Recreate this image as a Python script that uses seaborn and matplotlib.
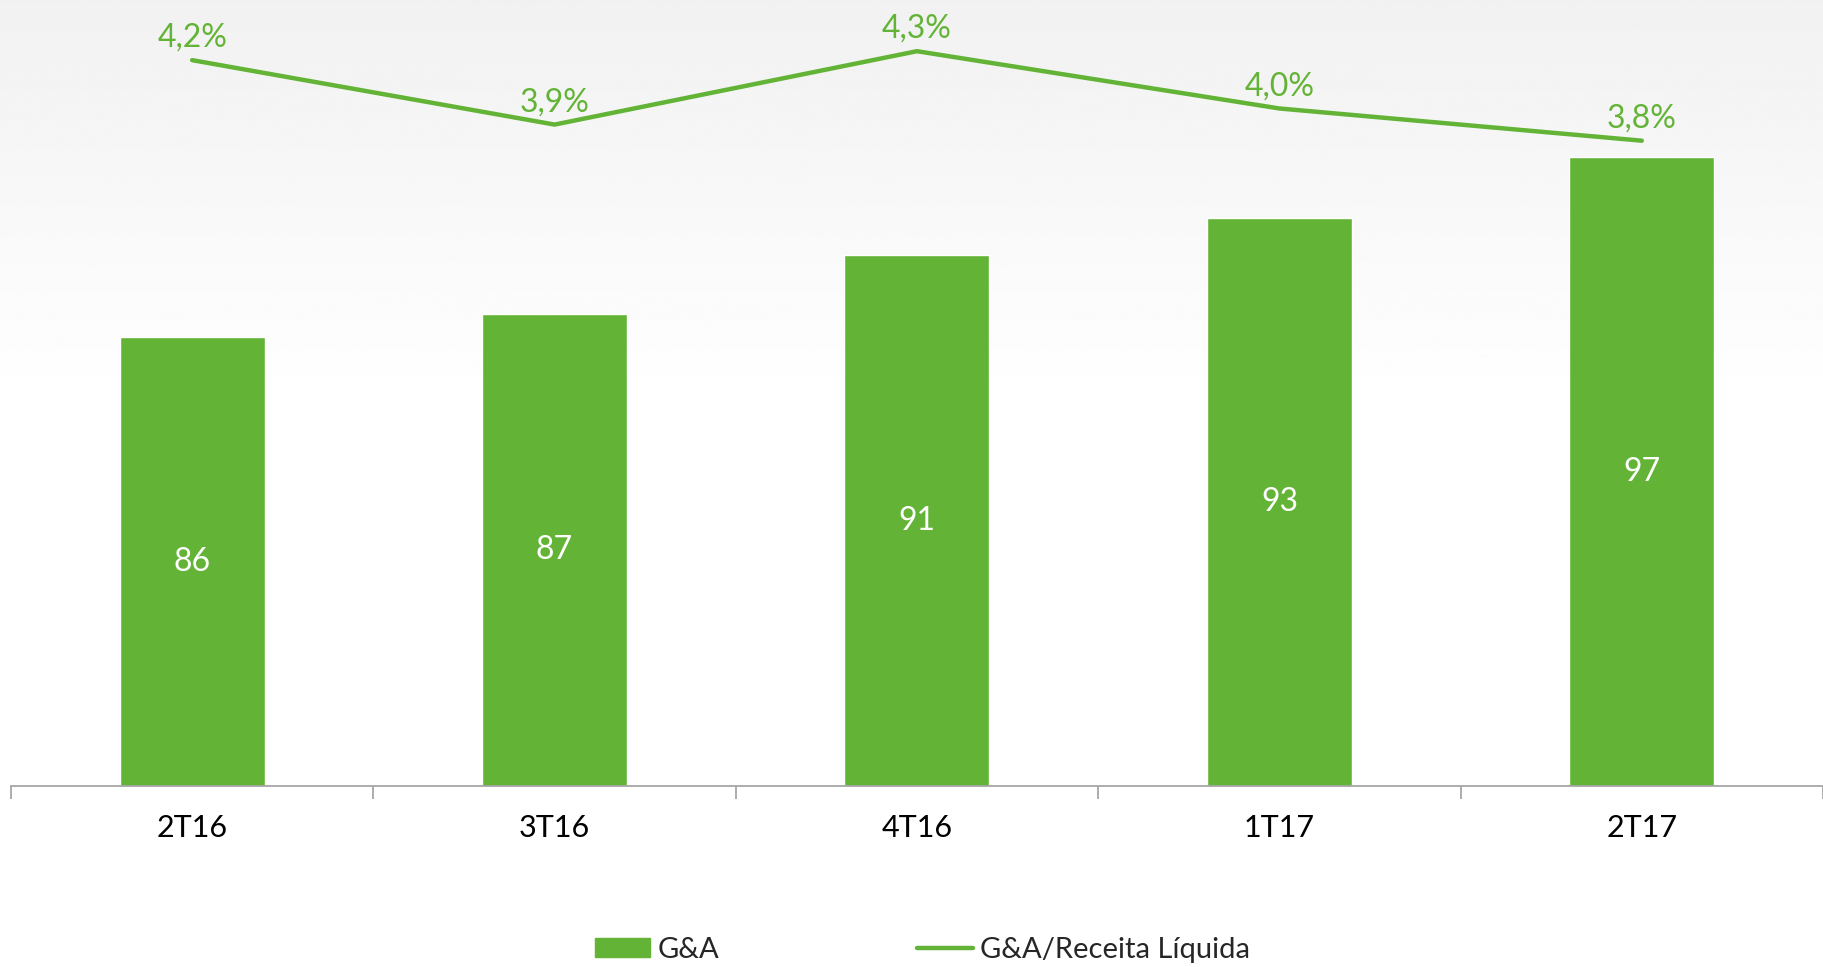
import numpy as np
import pandas as pd
import matplotlib
matplotlib.use("Agg")
import matplotlib.pyplot as plt
from matplotlib.patches import Patch
from matplotlib.lines import Line2D
import seaborn as sns

# data
quarters = ["2T16", "3T16", "4T16", "1T17", "2T17"]
ga_values = [86.0, 87.4, 91.0, 93.3, 97.0]
ga_labels = ["86", "87", "91", "93", "97"]
ratio_values = [4.25, 3.89, 4.30, 3.98, 3.80]
ratio_labels = ["4,2%", "3,9%", "4,3%", "4,0%", "3,8%"]

GREEN = "#63b436"
FONT = ["Lato", "DejaVu Sans"]
YMIN = 58.6

sns.set_theme(style="white")
plt.rcParams['font.family'] = FONT

fig = plt.figure(figsize=(18.23, 9.67), dpi=100)

# soft grey-to-white background
bg = fig.add_axes([0, 0, 1, 1], zorder=-10)
rows = np.linspace(0, 1, 400)
shade = np.clip(1 - rows / 0.42, 0, 1)
grad = 1 - 0.055 * shade
img = np.repeat(grad[:, None], 2, axis=1)
bg.imshow(img, cmap="gray", vmin=0, vmax=1, aspect="auto", extent=[0, 1, 0, 1], origin="upper")
bg.axis("off")

ax = fig.add_axes([0.006, 1 - 786 / 967, 0.994, 786 / 967])
ax.patch.set_alpha(0)

df = pd.DataFrame({"quarter": quarters, "ga": ga_values})
sns.barplot(data=df, x="quarter", y="ga", color=GREEN, saturation=1, width=0.4, ax=ax)

ax2 = ax.twinx()
sns.lineplot(x=np.arange(len(quarters)), y=ratio_values, color=GREEN, linewidth=3.2, ax=ax2)
ax2.set_ylim(0.195, 4.586)
ax2.set_yticks([])
for s in ax2.spines.values():
    s.set_visible(False)

# limits set after the line so autoscale doesn't undo them
ax.set_xlim(-0.5, 4.477)
ax.set_ylim(YMIN, 106.6)
ax.set_xlabel("")
ax.set_ylabel("")
ax.set_yticks([])
for s in ["top", "right", "left"]:
    ax.spines[s].set_visible(False)
ax.spines["bottom"].set_color("#a6a6a6")
ax.spines["bottom"].set_linewidth(1.3)
ax.set_xticks(range(len(quarters)))
ax.set_xticklabels(quarters)
ax.set_xticks(np.arange(-0.5, 5, 1), minor=True)
ax.tick_params(axis="x", which="minor", bottom=True, length=9, width=1.3, color="#a6a6a6")
ax.tick_params(axis="x", which="major", length=0, pad=20, labelsize=22, labelcolor="black")

for i, p in enumerate(ax.patches):
    ax.text(p.get_x() + p.get_width() / 2, (YMIN + p.get_height()) / 2,
            ga_labels[i], ha="center", va="center", color="white", fontsize=23)

for i, v in enumerate(ratio_values):
    ax2.annotate(ratio_labels[i], (i, v), xytext=(0, 16), textcoords="offset points",
                 ha="center", va="center", color=GREEN, fontsize=23)

handles = [Patch(facecolor=GREEN, edgecolor=GREEN, label="G&A"),
           Line2D([0], [0], color=GREEN, linewidth=3.2, label="G&A/Receita Líquida")]
fig.legend(handles=handles, loc="center", bbox_to_anchor=(0.506, 0.018), ncol=2,
           frameon=False, fontsize=21, handlelength=1.9, handleheight=0.6,
           handletextpad=0.25, columnspacing=6.8)

fig.savefig("out.png", dpi=100)
